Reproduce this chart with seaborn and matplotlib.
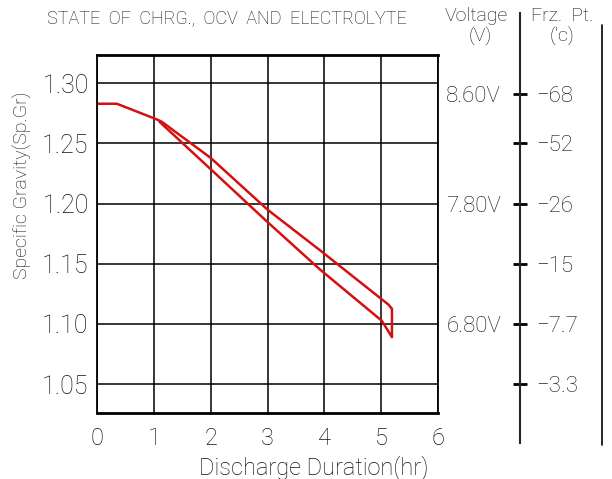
import numpy as np
import pandas as pd
import matplotlib
matplotlib.use("Agg")
import matplotlib.pyplot as plt
import seaborn as sns
from matplotlib.lines import Line2D

# data
hours_upper = [0.0, 0.35, 1.05, 1.14, 2.0, 3.0, 3.93, 5.13, 5.19]
sg_upper = [1.283, 1.283, 1.270, 1.268, 1.238, 1.195, 1.161, 1.116, 1.1125]

hours_lower = [1.10, 2.0, 3.0, 3.93, 5.01, 5.19, 5.19]
sg_lower = [1.268, 1.2286, 1.1847, 1.145, 1.1027, 1.089, 1.1125]

x_ticks = [0, 1, 2, 3, 4, 5, 6]
sg_ticks = [1.05, 1.10, 1.15, 1.20, 1.25, 1.30]

frz_sg = [1.291, 1.25, 1.20, 1.15, 1.10, 1.05]
frz_labels = ["\u221268", "\u221252", "\u221226", "\u221215", "\u22127.7", "\u22123.3"]

volt_sg = [1.291, 1.20, 1.10]
volt_labels = ["8.60V", "7.80V", "6.80V"]

upper = pd.DataFrame({"hr": hours_upper, "sg": sg_upper})
lower = pd.DataFrame({"hr": hours_lower, "sg": sg_lower})

sns.set_style("white")
plt.rcParams['font.family'] = ['Roboto', 'DejaVu Sans']
plt.rcParams['font.weight'] = 'light'
plt.rcParams['axes.labelweight'] = 'light'

txt = "#111111"
W, H = 612, 479
fig = plt.figure(figsize=(W / 100, H / 100), dpi=100)

# main axes: pixel box left 97, right 438, top 55, bottom 413
L, R, T, B = 97, 438, 55, 413
ax = fig.add_axes([L / W, 1 - B / H, (R - L) / W, (B - T) / H])

red = "#d41010"
sns.lineplot(data=upper, x="hr", y="sg", sort=False, estimator=None, color=red, lw=1.8, ax=ax)
sns.lineplot(data=lower, x="hr", y="sg", sort=False, estimator=None, color=red, lw=1.8, ax=ax)

ymin, ymax = 1.026, 1.3235
ax.set_xlim(0, 6)
ax.set_ylim(ymin, ymax)
ax.set_xticks(x_ticks)
ax.set_yticks(sg_ticks)
ax.set_yticklabels([f"{v:.2f}" for v in sg_ticks])
ax.grid(True, color="black", lw=1.1)
ax.set_axisbelow(True)
for side in ["left", "right"]:
    ax.spines[side].set_linewidth(1.3)
for side in ["top", "bottom"]:
    ax.spines[side].set_linewidth(2.0)
for s in ax.spines.values():
    s.set_color("black")
ax.tick_params(axis="y", length=0, pad=6, labelsize=18, colors=txt)
ax.tick_params(axis="x", length=0, pad=10, labelsize=17, colors=txt)

ax.set_xlabel("Discharge Duration(hr)", fontsize=17, color=txt, fontweight="light")
ax.xaxis.set_label_coords(0.636, -0.118)
ax.set_ylabel("Specific Gravity(Sp.Gr)", fontsize=14, color=txt, fontweight="light")
ax.yaxis.set_label_coords(-0.19, 0.637)

# voltage labels just right of the box
axv = ax.twinx()
axv.set_ylim(ymin, ymax)
axv.set_yticks(volt_sg)
axv.set_yticklabels(volt_labels, fontsize=16)
axv.tick_params(axis="y", length=0, pad=6, colors=txt)
for s in axv.spines.values():
    s.set_visible(False)
axv.grid(False)

# freezing point scale: vertical line at x=520 from y=13 to 443
per_px = (ymax - ymin) / (B - T)
ft, fb = 13, 443
axf = fig.add_axes([520 / W, 1 - fb / H, 0.0001, (fb - ft) / H])
axf.set_ylim(ymin - (fb - B) * per_px, ymax + (T - ft) * per_px)
axf.set_xticks([])
axf.yaxis.tick_right()
axf.set_yticks(frz_sg)
axf.set_yticklabels(frz_labels, fontsize=16, color=txt)
axf.tick_params(axis="y", direction="inout", length=10, width=2, pad=7, color="black")
for side in ["top", "bottom", "left"]:
    axf.spines[side].set_visible(False)
axf.spines["right"].set_linewidth(1.5)
axf.patch.set_visible(False)

# far right line
fig.add_artist(Line2D([602 / W, 602 / W], [1 - 445 / H, 1 - 25 / H], color="black", lw=1.2))

# header texts
fig.text(47 / W, 1 - 18 / H, "STATE  OF  CHRG.,  OCV  AND  ELECTROLYTE", fontsize=13,
         ha="left", va="center", color=txt)
fig.text(476 / W, 1 - 16 / H, "Voltage", fontsize=14, ha="center", va="center", color=txt)
fig.text(480 / W, 1 - 36 / H, "(V)", fontsize=14, ha="center", va="center", color=txt)
fig.text(562 / W, 1 - 16 / H, "Frz.  Pt.", fontsize=14, ha="center", va="center", color=txt)
fig.text(562 / W, 1 - 36 / H, "('c)", fontsize=14, ha="center", va="center", color=txt)

fig.savefig("out.png", dpi=100)
